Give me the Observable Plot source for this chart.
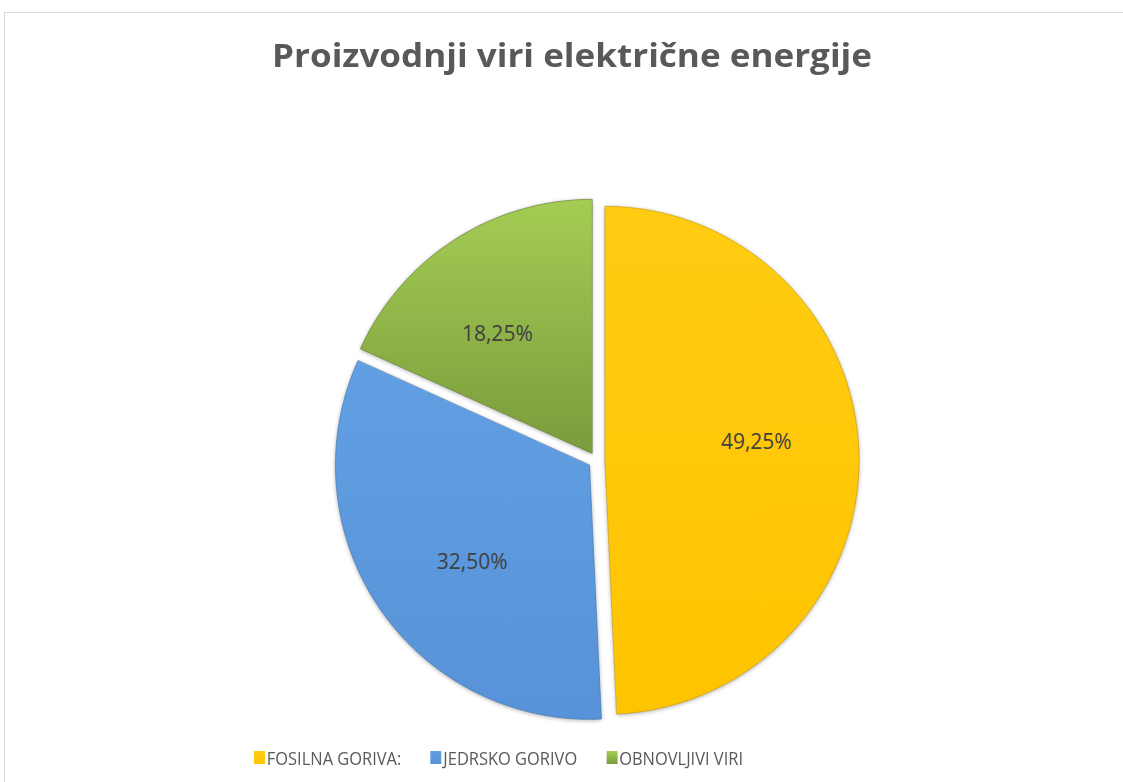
<!DOCTYPE html>
<html>
<head>
<meta charset="utf-8">
<script src="https://cdn.jsdelivr.net/npm/d3@7"></script>
<script src="https://cdn.jsdelivr.net/npm/@observablehq/plot@0.6"></script>
<style>
  html, body { margin: 0; padding: 0; background: #fff; width: 1123px; height: 782px; overflow: hidden; }
  #wrap { position: relative; width: 1123px; height: 782px; overflow: hidden; background: #fff; }
  #frame { position: absolute; left: 4px; top: 12px; width: 1300px; height: 900px; border: 1px solid #d9d9d9; box-sizing: border-box; }
  #chart { position: absolute; left: 0; top: 0; }
  #title { position: absolute; left: 272px; top: 39px; white-space: nowrap; transform-origin: 0 0;
           font-family: "Open Sans", sans-serif; font-weight: bold; font-size: 32px; line-height: 32px; color: #595959; }
  #legend { position: absolute; left: 254px; top: 741px; transform-origin: 0 0; white-space: nowrap; }
  #legend div, #legend span { font-family: "Liberation Sans Narrow", "Open Sans", sans-serif !important; font-size: 18px !important; line-height: 18px !important; color: #595959 !important; margin-bottom: 0 !important; }
  #legend div { display: inline-flex !important; flex-wrap: nowrap !important; }
  #legend span { margin-right: 32px !important; display: inline-flex !important; align-items: center !important; }
  #legend span:last-child { margin-right: 0 !important; }
  #legend span > svg { margin-right: 2px !important; }
</style>
</head>
<body>
<div id="wrap">
  <div id="frame"></div>
  <div id="chart"></div>
  <div id="title"><span id="titletext">Proizvodnji viri električne energije</span></div>
  <div id="legend"></div>
</div>
<script>
// ---- data ----
const categories = ["FOSILNA GORIVA:", "JEDRSKO GORIVO", "OBNOVLJIVI VIRI"];
const values = [49.25, 32.50, 18.25];
const labels = ["49,25%", "32,50%", "18,25%"];

// ---- style ----
const gradStops = [
  ["#FFCC12", "#FFC400"],
  ["#619FE2", "#5892D8"],
  ["#A4CD54", "#7B9B3C"]
];
const edgeColors = ["#C99A00", "#3F74B0", "#5E7A2C"];
const fillUrls = categories.map((c, i) => `url(#sliceGrad${i})`);

const W = 1123, H = 782;
const R = 254;            // pixel radius
const cxPx = 596, cyPx = 460;
const explode = 8.5 / R;  // in unit radius
const labelR = 0.6;
const labelRot = -5.5 * Math.PI / 180;

// ---- pie geometry from values ----
const arcs = d3.pie().sort(null).value(d => d)(values);
const points = [];
const labelData = [];
arcs.forEach((a, i) => {
  const mid = (a.startAngle + a.endAngle) / 2;
  const ox = explode * Math.sin(mid), oy = explode * Math.cos(mid);
  points.push({cat: categories[i], x: ox, y: oy});
  const n = Math.max(4, Math.ceil((a.endAngle - a.startAngle) / (Math.PI / 360)));
  for (let k = 0; k <= n; k++) {
    const t = a.startAngle + (a.endAngle - a.startAngle) * k / n;
    points.push({cat: categories[i], x: ox + Math.sin(t), y: oy + Math.cos(t)});
  }
  const la = mid + labelRot;
  labelData.push({x: ox + labelR * Math.sin(la), y: oy + labelR * Math.cos(la), text: labels[i]});
});

function defsMark() {
  const defs = d3.create("svg:defs");
  gradStops.forEach((s, i) => {
    const g = defs.append("linearGradient").attr("id", `sliceGrad${i}`)
      .attr("x1", 0).attr("y1", 0).attr("x2", 0).attr("y2", 1);
    g.append("stop").attr("offset", "0%").attr("stop-color", s[0]);
    g.append("stop").attr("offset", "100%").attr("stop-color", s[1]);
  });
  return defs.node();
}

const plot = Plot.plot({
  width: W,
  height: H,
  margin: 0,
  style: {background: "transparent", overflow: "visible"},
  x: {domain: [-cxPx / R, (W - cxPx) / R], range: [0, W], axis: null},
  y: {domain: [-(H - cyPx) / R, cyPx / R], range: [H, 0], axis: null},
  color: {domain: categories, range: fillUrls},
  marks: [
    defsMark,
    Plot.line(points, {x: "x", y: "y", z: "cat", fill: "cat", stroke: "none", curve: "linear-closed"}),
    ...categories.map((c, i) =>
      Plot.line(points.filter(p => p.cat === c), {x: "x", y: "y", stroke: edgeColors[i], strokeWidth: 0.8, strokeOpacity: 0.8, fill: "none", curve: "linear-closed"})
    ),
    Plot.text(labelData, {x: "x", y: "y", text: "text", fill: "#404040", fontSize: 21, fontFamily: "Open Sans"})
  ]
});
// soft shadow under slice fills
d3.select(plot).selectAll("g[aria-label='line']").filter((d, i) => i === 0)
  .selectAll("path").style("filter", "drop-shadow(0px 1px 2px rgba(0,0,0,0.35))");
document.getElementById("chart").appendChild(plot);

// legend through Plot's color scale
const leg = plot.legend("color", {swatchWidth: 12, swatchHeight: 13, className: "lg"});
document.getElementById("legend").appendChild(leg);

// fit title and legend widths
const tt = document.getElementById("titletext");
const tw = tt.getBoundingClientRect().width;
document.getElementById("title").style.transform = `scaleX(${600 / tw})`;

const legDiv = document.getElementById("legend");
const sw = legDiv.querySelectorAll("span");
if (sw.length) {
  const l = sw[0].getBoundingClientRect().left;
  const r = sw[sw.length - 1].getBoundingClientRect().right;
  const s = 489 / (r - l);
  legDiv.style.transform = `scaleX(${s})`;
}
</script>
</body>
</html>
